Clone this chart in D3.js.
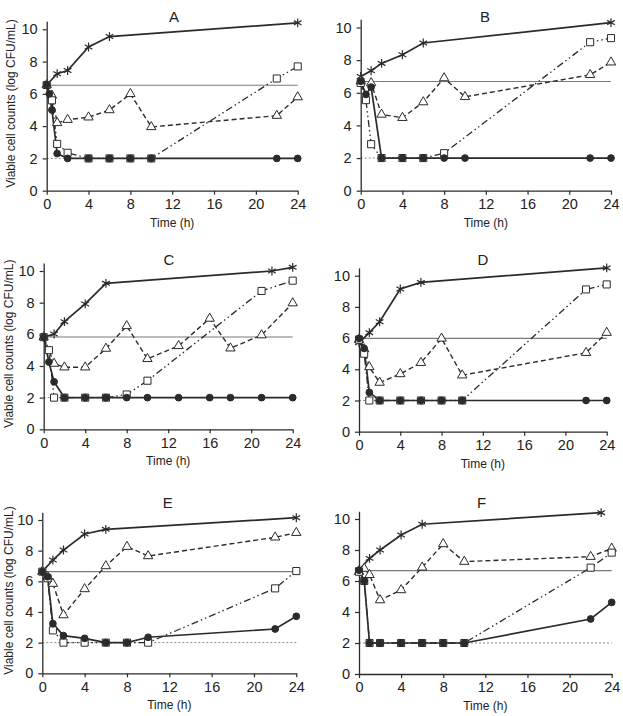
<!DOCTYPE html>
<html><head><meta charset="utf-8">
<script src="https://cdn.jsdelivr.net/npm/d3@7"></script>
<style>body{margin:0;background:#fff}svg{display:block;font-family:"Liberation Sans",Arial,sans-serif}</style>
</head><body><div id="chart"></div>
<script>
// ---------- data ----------
const panelNames = ["A","B","C","D","E","F"];
const xTicks = [0,4,8,12,16,20,24];
const yTicks = [0,2,4,6,8,10];
const xLabel = "Time (h)";
const yLabel = "Viable cell counts (log CFU/mL)";
const detectionLimit = 2;
const inoculum = [6.53, 6.69, 5.83, 5.98, 6.63, 6.67];

const controlA = [[0,6.55],[1,7.25],[2,7.45],[4,8.9],[6,9.55],[24,10.4]];
const triA = [[0,6.55],[0.5,5.9],[1,4.2],[2,4.4],[4,4.55],[6,5.0],[8,6.0],[10,3.95],[22,4.65],[24,5.8]];
const sqA = [[0,6.55],[0.5,5.6],[1,2.9],[2,2.35],[4,2],[6,2],[8,2],[10,2],[22,6.95],[24,7.7]];
const cirA = [[0,6.55],[0.25,6.0],[0.5,5.0],[1,2.3],[2,2],[4,2],[6,2],[8,2],[10,2],[22,2],[24,2]];

const controlB = [[0,7.0],[1,7.35],[2,7.8],[4,8.33],[6,9.05],[24,10.3]];
const triB = [[0,6.7],[1,6.6],[2,4.67],[4,4.47],[6,5.43],[8,6.9],[10,5.75],[22,7.1],[24,7.87]];
const sqB = [[0,6.6],[0.5,5.55],[1,2.85],[2,2],[4,2],[6,2],[8,2.3],[22,9.1],[24,9.35]];
const cirB = [[0,6.7],[0.5,5.9],[1,6.35],[2,2],[4,2],[6,2],[8,2],[10,2],[22,2],[24,2]];

const controlC = [[0,5.82],[1,6.02],[2,6.8],[4,7.92],[6,9.22],[22,10.0],[24,10.23]];
const triC = [[0,5.82],[1,4.15],[2,3.92],[4,3.92],[6,5.1],[8,6.53],[10,4.45],[13,5.27],[16,7.0],[18,5.12],[21,5.95],[24,7.97]];
const sqC = [[0,5.82],[0.5,5.0],[1,2],[2,2],[4,2],[6,2],[8,2.2],[10,3.07],[21,8.74],[24,9.39]];
const cirC = [[0,5.82],[0.5,4.25],[1,3.0],[2,2],[4,2],[6,2],[8,2],[10,2],[13,2],[16,2],[18,2],[21,2],[24,2]];

const controlD = [[0,5.7],[1,6.35],[2,7.05],[4,9.15],[6,9.57],[24,10.5]];
const triD = [[0,5.9],[0.5,5.3],[1,4.15],[2,3.15],[4,3.7],[6,4.42],[8,5.98],[10,3.62],[22,5.06],[24,6.35]];
const sqD = [[0,5.9],[0.5,5.0],[1,2],[2,2],[4,2],[6,2],[8,2],[10,2],[22,9.12],[24,9.44]];
const cirD = [[0,5.98],[0.5,5.34],[1,2.52],[2,2],[4,2],[6,2],[8,2],[10,2],[22,2],[24,2]];

const controlE = [[0,6.63],[1,7.39],[2,8.04],[4,9.09],[6,9.39],[24,10.15]];
const triE = [[0,6.63],[0.5,6.3],[1,5.85],[2,3.8],[4,5.5],[6,7.0],[8,8.26],[10,7.65],[22,8.87],[24,9.17]];
const sqE = [[0,6.63],[0.5,6.2],[1,2.8],[2,2],[4,2],[6,2],[8,2],[10,2],[22,5.54],[24,6.67]];
const cirE = [[0,6.63],[0.5,6.3],[1,3.24],[2,2.46],[4,2.28],[6,2],[8,2],[10,2.35],[22,2.89],[24,3.72]];

const controlF = [[0,6.71],[1,7.46],[2,8.0],[4,8.97],[6,9.66],[23,10.41]];
const triF = [[0,6.6],[0.5,6.8],[1,6.4],[2,4.77],[4,5.42],[6,6.88],[8,8.39],[10,7.25],[22,7.57],[24,8.1]];
const sqF = [[0,6.6],[0.5,6.0],[1,2],[2,2],[4,2],[6,2],[8,2],[10,2],[22,6.86],[24,7.83]];
const cirF = [[0,6.7],[0.5,6.0],[1,2],[2,2],[4,2],[6,2],[8,2],[10,2],[22,3.55],[24,4.62]];

const controls = [controlA,controlB,controlC,controlD,controlE,controlF];
const triangles = [triA,triB,triC,triD,triE,triF];
const squares = [sqA,sqB,sqC,sqD,sqE,sqF];
const circles = [cirA,cirB,cirC,cirD,cirE,cirF];

// ---------- layout ----------
const W = 623, H = 716;
const layout = [
  {l:46.7, r:297.7, y0:190.7, y10:29.3, tx:174, ty:22, ylx:10.5},
  {l:360.7, r:611, y0:190.7, y10:27.5, tx:485, ty:22, ylx:null},
  {l:43.7, r:292.7, y0:429.3, y10:271, tx:169, ty:265, ylx:9},
  {l:359, r:606.7, y0:431.7, y10:275.7, tx:483, ty:265, ylx:null},
  {l:42.3, r:296.3, y0:673.3, y10:520, tx:167.7, ty:508, ylx:9},
  {l:359, r:611.7, y0:674, y10:519, tx:481.7, ty:508, ylx:null}
];
const ink = "#2b2b2b";

const svg = d3.select("#chart").append("svg").attr("width",W).attr("height",H);

panelNames.forEach((name,i)=>{
  const L = layout[i];
  const x = d3.scaleLinear().domain([0,24]).range([L.l, L.r]);
  const unit = (L.y0 - L.y10)/10;
  const y = d3.scaleLinear().domain([0,10.5]).range([L.y0, L.y0 - 10.5*unit]);
  const g = svg.append("g");

  // reference lines
  g.append("line").attr("x1",x(0)).attr("x2",x(24)).attr("y1",y(inoculum[i])).attr("y2",y(inoculum[i]))
    .attr("stroke","#7a7a7a").attr("stroke-width",1.1);
  g.append("line").attr("x1",x(0)).attr("x2",x(24)).attr("y1",y(detectionLimit)).attr("y2",y(detectionLimit))
    .attr("stroke","#888").attr("stroke-width",1).attr("stroke-dasharray","2,2");

  // axes
  const xa = g.append("g").attr("transform",`translate(0,${y(0)})`)
    .call(d3.axisBottom(x).tickValues(xTicks).tickSize(4).tickSizeOuter(0).tickPadding(4));
  const ya = g.append("g").attr("transform",`translate(${x(0)},0)`)
    .call(d3.axisLeft(y).tickValues(yTicks).tickSize(4).tickSizeOuter(0).tickPadding(5));
  [xa,ya].forEach(a=>{
    a.select(".domain").attr("stroke",ink).attr("stroke-width",1.3);
    a.selectAll(".tick line").attr("stroke",ink).attr("stroke-width",1.2);
    a.selectAll(".tick text").attr("fill","#222").style("font-size","14.5px");
  });

  // texts
  g.append("text").attr("x",L.tx).attr("y",L.ty).attr("text-anchor","middle")
    .style("font-size","15px").attr("fill","#222").text(name);
  g.append("text").attr("x",(x(0)+x(24))/2).attr("y",y(0)+36).attr("text-anchor","middle")
    .style("font-size","12px").attr("fill","#222").text(xLabel);
  if (L.ylx !== null) {
    const cy = y(5.4);
    g.append("text").attr("transform",`translate(${L.ylx},${cy}) rotate(-90)`)
      .attr("text-anchor","middle").attr("dy","0.35em").style("font-size","12px").attr("fill","#222").text(yLabel);
  }

  const line = d3.line().x(d=>x(d[0])).y(d=>y(d[1]));
  const series = [
    {data:controls[i], dash:null, w:1.7, sym:d3.symbolAsterisk, size:55, fill:"none"},
    {data:triangles[i], dash:"5,3", w:1.4, sym:d3.symbolTriangle, size:38, fill:"#fff"},
    {data:squares[i], dash:"7,3,1.5,3,1.5,3", w:1.3, sym:d3.symbolSquare, size:50, fill:"#fff"},
    {data:circles[i], dash:null, w:1.7, sym:d3.symbolCircle, size:36, fill:ink}
  ];
  series.forEach(s=>{
    g.append("path").datum(s.data).attr("d",line).attr("fill","none")
      .attr("stroke",ink).attr("stroke-width",s.w).attr("stroke-dasharray",s.dash);
  });
  series.forEach(s=>{
    g.selectAll(null).data(s.data).enter().append("path")
      .attr("transform",d=>`translate(${x(d[0])},${y(d[1])})`)
      .attr("d",d3.symbol().type(s.sym).size(s.size))
      .attr("fill",s.fill).attr("stroke",ink).attr("stroke-width",s.sym===d3.symbolAsterisk?1.2:1);
  });
});
</script></body></html>
